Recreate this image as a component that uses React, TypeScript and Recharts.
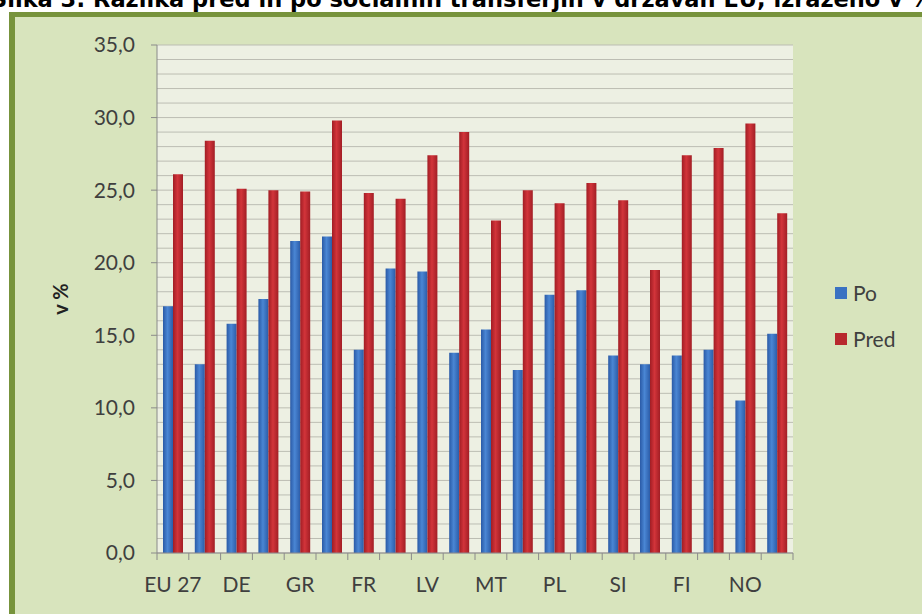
import { Bar, BarChart, CartesianGrid, XAxis, YAxis } from "recharts";

const countries = ["EU 27", "CZ", "DE", "IE", "GR", "ES", "FR", "IT", "LV", "HU", "MT", "AT", "PL", "PT", "SI", "SK", "FI", "SE", "NO", "HR"];
const po = [17.0, 13.0, 15.8, 17.5, 21.5, 21.8, 14.0, 19.6, 19.4, 13.8, 15.4, 12.6, 17.8, 18.1, 13.6, 13.0, 13.6, 14.0, 10.5, 15.1];
const pred = [26.1, 28.4, 25.1, 25.0, 24.9, 29.8, 24.8, 24.4, 27.4, 29.0, 22.9, 25.0, 24.1, 25.5, 24.3, 19.5, 27.4, 27.9, 29.6, 23.4];
const yTicks = [0, 5, 10, 15, 20, 25, 30, 35];
const Y_MAX = 35;
// minor gridlines every 1,0
const gridTicks = Array.from({ length: Y_MAX + 1 }, (_, i) => i);

const data = countries.map((c, i) => ({ name: c, Po: po[i], Pred: pred[i] }));

const W = 922;
const H = 614;
const PLOT_L = 157;
const PLOT_R = 793;
const PLOT_T = 45;
const BAND = (PLOT_R - PLOT_L) / countries.length;
const FONT = "Lato, 'Open Sans', sans-serif";
const TXT = "#3f3f3f";

function CatTick(props: any) {
  const { x, y, payload, index } = props;
  const last = index === countries.length - 1;
  return (
    <g>
      <line x1={x - BAND / 2} x2={x - BAND / 2} y1={y - 8} y2={y - 1} stroke="#8a8a8a" />
      {last && <line x1={x + BAND / 2} x2={x + BAND / 2} y1={y - 8} y2={y - 1} stroke="#8a8a8a" />}
      {index % 2 === 0 && (
        <text x={x} y={y + 31} textAnchor="middle" fontSize={21} fontFamily={FONT} fill={TXT}>
          {payload.value}
        </text>
      )}
    </g>
  );
}

function gridRows(p: any) {
  const s = p?.yAxis?.scale;
  if (typeof s === "function") return gridTicks.map((t) => s(t));
  const top = p?.offset?.top ?? PLOT_T;
  const h = p?.offset?.height ?? 508;
  return gridTicks.map((t) => top + h * (1 - t / Y_MAX));
}

export default function App() {
  return (
    <div style={{ position: "fixed", left: 0, top: 0, width: W, height: H, overflow: "hidden", background: "#fff" }}>
      {/* title, cut at the top as in the source */}
      <div style={{ position: "absolute", left: 0, top: 0, width: W, height: 12, overflow: "hidden" }}>
        <div
          style={{
            position: "absolute",
            left: -9,
            top: -14,
            whiteSpace: "nowrap",
            fontFamily: "'DejaVu Sans', sans-serif",
            fontWeight: "bold",
            fontSize: 22.5,
            color: "#000",
          }}
        >
          Slika 3: Razlika pred in po socialnih transferjih v državah EU, izraženo v %
        </div>
      </div>

      {/* frame */}
      <div
        style={{
          position: "absolute",
          left: 9,
          top: 12,
          right: 0,
          bottom: 0,
          background: "#d8e4bd",
          borderTop: "5px solid #77933c",
          borderLeft: "6px solid #77933c",
        }}
      />

      <div style={{ position: "absolute", left: 0, top: 0 }}>
        <BarChart
          width={W}
          height={H}
          data={data}
          margin={{ top: PLOT_T, right: W - PLOT_R, bottom: 21, left: PLOT_L - 60 }}
          barGap={0}
          barSize={10}
        >
          <defs>
            <linearGradient id="gBlue" x1="0" y1="0" x2="1" y2="0">
              <stop offset="0" stopColor="#2a5aa6" />
              <stop offset="0.45" stopColor="#4a86d4" />
              <stop offset="1" stopColor="#2c5ca8" />
            </linearGradient>
            <linearGradient id="gRed" x1="0" y1="0" x2="1" y2="0">
              <stop offset="0" stopColor="#a11d24" />
              <stop offset="0.45" stopColor="#d2343a" />
              <stop offset="1" stopColor="#a21e25" />
            </linearGradient>
          </defs>
          <CartesianGrid
            vertical={false}
            horizontalCoordinatesGenerator={gridRows}
            stroke="#bcbdb3"
            fill="#edf0e3"
            fillOpacity={1}
          />
          <XAxis
            dataKey="name"
            interval={0}
            axisLine={{ stroke: "#8a8a8a" }}
            tickLine={false}
            tick={<CatTick />}
            height={40}
          />
          <YAxis
            domain={[0, Y_MAX]}
            ticks={yTicks}
            interval={0}
            width={60}
            axisLine={{ stroke: "#8a8a8a" }}
            tickLine={{ stroke: "#8a8a8a" }}
            tickSize={6}
            tickMargin={16}
            tickFormatter={(v: number) => v.toFixed(1).replace(".", ",")}
            tick={{ fontSize: 21, fontFamily: FONT, fill: TXT }}
            label={{
              value: "v %",
              angle: -90,
              position: "insideLeft",
              offset: -36,
              style: { fontSize: 20, fontWeight: "bold", fontFamily: FONT, fill: "#222", textAnchor: "middle" },
            }}
          />
          <Bar dataKey="Po" fill="url(#gBlue)" isAnimationActive={false} />
          <Bar dataKey="Pred" fill="url(#gRed)" isAnimationActive={false} />
        </BarChart>
      </div>

      {/* legend */}
      {[
        { label: "Po", color: "#3a72c2", top: 280 },
        { label: "Pred", color: "#b8282e", top: 326 },
      ].map((it) => (
        <div
          key={it.label}
          style={{ position: "absolute", left: 835, top: it.top, display: "flex", alignItems: "center", gap: 6 }}
        >
          <div style={{ width: 12, height: 12, background: it.color }} />
          <span style={{ fontFamily: FONT, fontSize: 21, color: TXT }}>{it.label}</span>
        </div>
      ))}
    </div>
  );
}
